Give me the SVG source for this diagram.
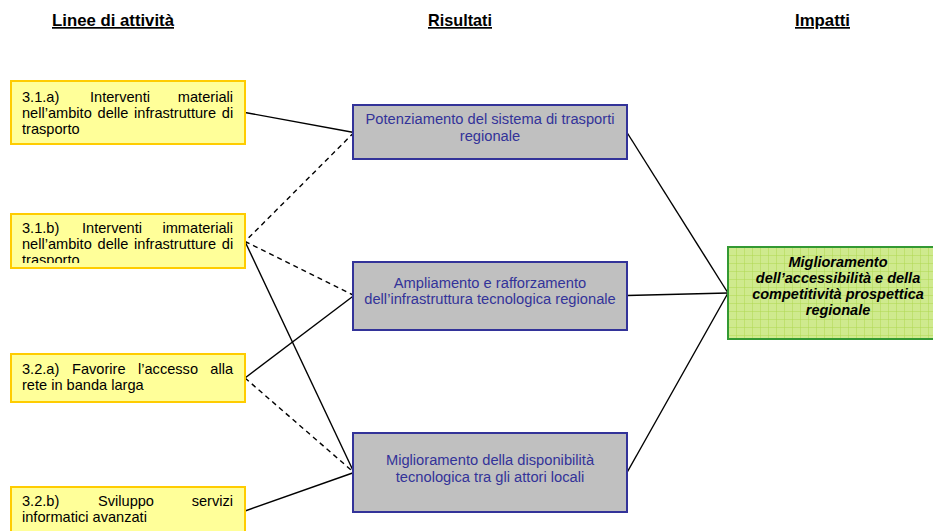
<svg xmlns="http://www.w3.org/2000/svg" width="933" height="531" viewBox="0 0 933 531">
<style>
.hdr{font-family:"Liberation Sans",Arial,sans-serif;font-weight:bold;font-size:17px;fill:#000;text-decoration:underline}
.act rect{fill:#FFFF99;stroke:#FFCC00;stroke-width:2}
.act text{font-family:"Liberation Sans",Arial,sans-serif;font-size:14.6px;fill:#000}
.res rect{fill:#C0C0C0;stroke:#333399;stroke-width:2}
.res text{font-family:"Liberation Sans",Arial,sans-serif;font-size:14.7px;fill:#333399;text-anchor:middle}
.imp text{font-family:"Liberation Sans",Arial,sans-serif;font-size:14.5px;font-weight:bold;font-style:italic;fill:#000;text-anchor:middle}
.c line{stroke:#000;stroke-width:1.4;fill:none}
.c .d{stroke-dasharray:5 4}
</style>
<defs>
<pattern id="grid" width="8" height="8" patternUnits="userSpaceOnUse" x="728" y="247">
<rect width="8" height="8" fill="#CFEA8E"/>
<path d="M0 0H8M0 0V8" stroke="#B0D850" stroke-width="1" fill="none"/>
</pattern>
<clipPath id="clip2"><rect x="11" y="214" width="234" height="49"/></clipPath>
</defs>
<g id="headers">
<text class="hdr" x="52" y="26" textLength="122" lengthAdjust="spacingAndGlyphs">Linee di attività</text>
<text class="hdr" x="428" y="26" textLength="64" lengthAdjust="spacingAndGlyphs">Risultati</text>
<text class="hdr" x="795" y="26" textLength="55" lengthAdjust="spacingAndGlyphs">Impatti</text>
</g>
<g class="c" id="connectors">
<line x1="245" y1="112.5" x2="354" y2="132.5"/>
<line class="d" x1="354" y1="132.5" x2="245" y2="241.5"/>
<line class="d" x1="245" y1="241.5" x2="354" y2="295.5"/>
<line x1="245" y1="241.5" x2="354" y2="472.5"/>
<line x1="245" y1="378" x2="354" y2="295.5"/>
<line class="d" x1="245" y1="378" x2="354" y2="472.5"/>
<line x1="245" y1="511" x2="354" y2="472.5"/>
<line x1="627" y1="132.5" x2="728" y2="293"/>
<line x1="627" y1="295.5" x2="728" y2="293"/>
<line x1="627" y1="472.5" x2="728" y2="293"/>
</g>
<g class="act" id="a1">
<rect x="11" y="81" width="234" height="63"/>
<text x="22" y="102">3.1.a)</text>
<text x="90" y="102">Interventi</text>
<text x="233" y="102" text-anchor="end">materiali</text>
<text x="22" y="118" word-spacing="1.7">nell’ambito delle infrastrutture di</text>
<text x="22" y="134">trasporto</text>
</g>
<g class="act" id="a2">
<rect x="11" y="214" width="234" height="54"/>
<g clip-path="url(#clip2)">
<text x="22" y="233">3.1.b)</text>
<text x="82" y="233">Interventi</text>
<text x="233" y="233" text-anchor="end">immateriali</text>
<text x="22" y="249" word-spacing="1.7">nell’ambito delle infrastrutture di</text>
<text x="22" y="265">trasporto</text>
</g>
</g>
<g class="act" id="a3">
<rect x="11" y="354" width="234" height="48"/>
<text x="22" y="374">3.2.a)</text>
<text x="72" y="374">Favorire</text>
<text x="138" y="374">l’accesso</text>
<text x="233" y="374" text-anchor="end">alla</text>
<text x="22" y="390">rete in banda larga</text>
</g>
<g class="act" id="a4">
<rect x="11" y="487" width="234" height="50"/>
<text x="22" y="506">3.2.b)</text>
<text x="98" y="506">Sviluppo</text>
<text x="233" y="506" text-anchor="end">servizi</text>
<text x="22" y="522">informatici avanzati</text>
</g>
<g class="res" id="r1">
<rect x="353" y="105" width="274" height="54"/>
<text x="490" y="124">Potenziamento del sistema di trasporti</text>
<text x="490" y="140.5">regionale</text>
</g>
<g class="res" id="r2">
<rect x="353" y="262" width="274" height="68"/>
<text x="490" y="287.5">Ampliamento e rafforzamento</text>
<text x="490" y="304">dell’infrastruttura tecnologica regionale</text>
</g>
<g class="res" id="r3">
<rect x="353" y="433" width="274" height="79"/>
<text x="490" y="465">Miglioramento della disponibilità</text>
<text x="490" y="481.5">tecnologica tra gli attori locali</text>
</g>
<g class="imp" id="i1">
<rect x="728" y="247" width="220" height="92" fill="url(#grid)" stroke="#339933" stroke-width="2"/>
<text x="838" y="267">Miglioramento</text>
<text x="838" y="283">dell’accessibilità e della</text>
<text x="838" y="299">competitività prospettica</text>
<text x="838" y="314.5">regionale</text>
</g>
</svg>
